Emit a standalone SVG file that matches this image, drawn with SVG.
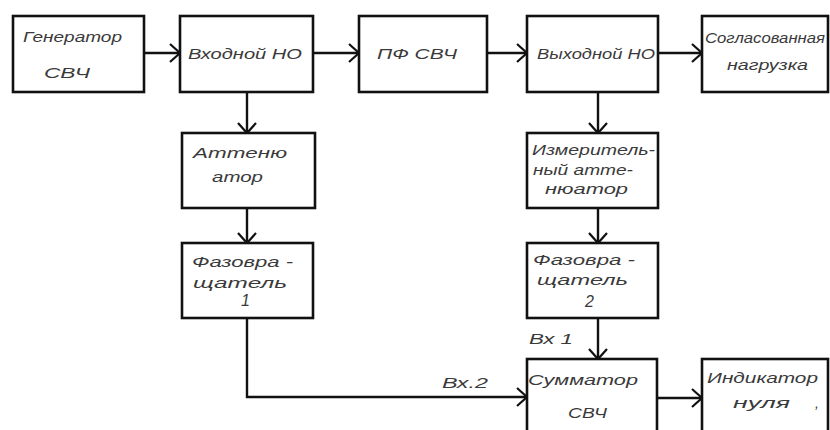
<svg xmlns="http://www.w3.org/2000/svg" width="830" height="430" viewBox="0 0 830 430">
<defs>
<marker id="arr" markerWidth="14" markerHeight="20" refX="12" refY="10" orient="auto" markerUnits="userSpaceOnUse">
<polyline points="2,1 12,10 2,19" fill="none" stroke="#111" stroke-width="2.2"/>
</marker>
<style>
.box{fill:#fff;stroke:#111;stroke-width:2.6}
.ln{fill:none;stroke:#111;stroke-width:2.4}
text{font-family:"Liberation Sans",Arial,sans-serif;font-style:italic;font-size:14px;fill:#3a3a3a}
.num{font-size:16px}
</style>
</defs>
<rect width="830" height="430" fill="#fff"/>
<g id="connectors">
<line class="ln" x1="144" y1="53" x2="180" y2="53" marker-end="url(#arr)"/>
<line class="ln" x1="313" y1="53" x2="359" y2="53" marker-end="url(#arr)"/>
<line class="ln" x1="487" y1="53" x2="527" y2="53" marker-end="url(#arr)"/>
<line class="ln" x1="658" y1="53" x2="702" y2="53" marker-end="url(#arr)"/>
<line class="ln" x1="247" y1="92" x2="247" y2="133" marker-end="url(#arr)"/>
<line class="ln" x1="247" y1="208" x2="247" y2="243" marker-end="url(#arr)"/>
<line class="ln" x1="598" y1="92" x2="598" y2="133" marker-end="url(#arr)"/>
<line class="ln" x1="598" y1="208" x2="598" y2="243" marker-end="url(#arr)"/>
<line class="ln" x1="598" y1="318" x2="598" y2="359" marker-end="url(#arr)"/>
<polyline class="ln" points="247,318 247,397 527,397" marker-end="url(#arr)"/>
<line class="ln" x1="657" y1="398" x2="702" y2="398" marker-end="url(#arr)"/>
<text x="442" y="388" textLength="46" lengthAdjust="spacingAndGlyphs">Вх.2</text>
<text x="529" y="344" textLength="44" lengthAdjust="spacingAndGlyphs">Вх  1</text>
</g>
<g id="gen">
<rect class="box" x="13" y="16" width="131" height="76"/>
<text x="23" y="42" textLength="99" lengthAdjust="spacingAndGlyphs">Генератор</text>
<text x="44" y="78" textLength="46" lengthAdjust="spacingAndGlyphs">СВЧ</text>
</g>
<g id="inNO">
<rect class="box" x="180" y="16" width="133" height="76"/>
<text x="188" y="59" textLength="114" lengthAdjust="spacingAndGlyphs">Входной НО</text>
</g>
<g id="pf">
<rect class="box" x="359" y="16" width="128" height="76"/>
<text x="377" y="59" textLength="80" lengthAdjust="spacingAndGlyphs">ПФ СВЧ</text>
</g>
<g id="outNO">
<rect class="box" x="527" y="16" width="131" height="76"/>
<text x="537" y="59" textLength="118" lengthAdjust="spacingAndGlyphs">Выходной НО</text>
</g>
<g id="load">
<rect class="box" x="702" y="16" width="126" height="76"/>
<text x="705" y="43" textLength="120" lengthAdjust="spacingAndGlyphs">Согласованная</text>
<text x="727" y="70" textLength="81" lengthAdjust="spacingAndGlyphs">нагрузка</text>
</g>
<g id="att">
<rect class="box" x="182" y="133" width="133" height="75"/>
<text x="193" y="158" textLength="94" lengthAdjust="spacingAndGlyphs">Аттеню</text>
<text x="212" y="182" textLength="51" lengthAdjust="spacingAndGlyphs">атор</text>
</g>
<g id="ph1">
<rect class="box" x="182" y="243" width="131" height="75"/>
<text x="192" y="267" textLength="101" lengthAdjust="spacingAndGlyphs">Фазовра -</text>
<text x="193" y="288" textLength="94" lengthAdjust="spacingAndGlyphs">щатель</text>
<text class="num" x="241" y="306">1</text>
</g>
<g id="matt">
<rect class="box" x="527" y="133" width="131" height="75"/>
<text x="532" y="155" textLength="123" lengthAdjust="spacingAndGlyphs">Измеритель-</text>
<text x="533" y="175" textLength="100" lengthAdjust="spacingAndGlyphs">ный  атте-</text>
<text x="545" y="194" textLength="83" lengthAdjust="spacingAndGlyphs">нюатор</text>
</g>
<g id="ph2">
<rect class="box" x="527" y="243" width="131" height="75"/>
<text x="533" y="265" textLength="102" lengthAdjust="spacingAndGlyphs">Фазовра -</text>
<text x="537" y="285" textLength="91" lengthAdjust="spacingAndGlyphs">щатель</text>
<text class="num" x="585" y="307">2</text>
</g>
<g id="sum">
<rect class="box" x="527" y="359" width="130" height="85"/>
<text x="528" y="385" textLength="110" lengthAdjust="spacingAndGlyphs">Сумматор</text>
<text x="568" y="418" textLength="39" lengthAdjust="spacingAndGlyphs">СВЧ</text>
</g>
<g id="ind">
<rect class="box" x="702" y="359" width="126" height="85"/>
<text x="707" y="383" textLength="111" lengthAdjust="spacingAndGlyphs">Индикатор</text>
<text x="733" y="408" textLength="57" lengthAdjust="spacingAndGlyphs">нуля</text>
<text x="815" y="408">,</text>
</g>
</svg>
